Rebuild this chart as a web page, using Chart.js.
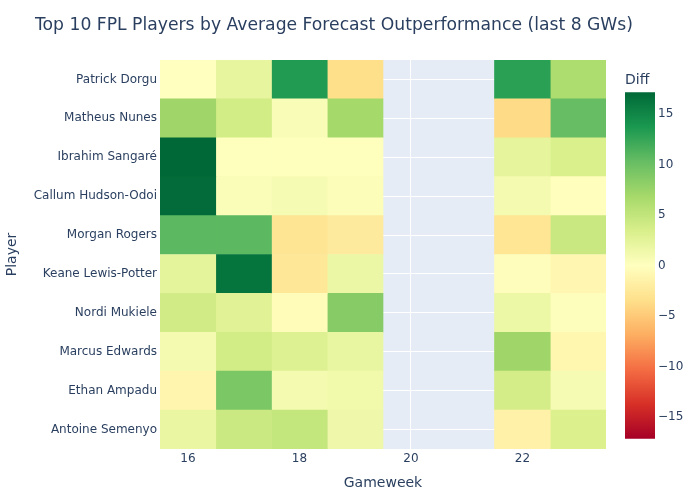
<!DOCTYPE html>
<html>
<head>
<meta charset="utf-8">
<script src="https://cdn.jsdelivr.net/npm/chart.js@4.4.1/dist/chart.umd.min.js"></script>
<style>
html,body{margin:0;padding:0;background:#fff;}
#wrap{position:relative;width:700px;height:500px;font-family:"DejaVu Sans",sans-serif;color:#2a3f5f;overflow:hidden;}
#mainwrap{position:absolute;left:0;top:0;width:700px;height:500px;}
#cbwrap{position:absolute;left:620px;top:82px;width:80px;height:367px;}
#title{position:absolute;left:35px;top:12px;font-size:17.2px;line-height:24px;white-space:nowrap;}
#cbtitle{position:absolute;left:625px;top:69px;font-size:14px;line-height:20px;}
</style>
</head>
<body>
<div id="wrap">
  <div id="mainwrap"><canvas id="main"></canvas></div>
  <div id="cbwrap"><canvas id="cb"></canvas></div>
  <div id="title">Top 10 FPL Players by Average Forecast Outperformance (last 8 GWs)</div>
  <div id="cbtitle">Diff</div>
</div>
<script>
// ---- data ----
const players = ['Patrick Dorgu','Matheus Nunes','Ibrahim Sangaré','Callum Hudson-Odoi','Morgan Rogers','Keane Lewis-Potter','Nordi Mukiele','Marcus Edwards','Ethan Ampadu','Antoine Semenyo'];
const gameweeks = [16, 17, 18, 19, 22, 23];
const gw16 = [0.0, 7.2, 17.15, 16.9, 10.7, 2.4, 4.0, 1.0, -1.1, 1.9];
const gw17 = [2.2, 3.9, 0.1, 0.5, 10.7, 16.3, 2.7, 3.9, 9.1, 4.4];
const gw18 = [13.4, 0.6, 0.1, 0.8, -2.9, -2.6, -0.3, 3.0, 1.0, 4.9];
const gw19 = [-3.4, 6.9, 0.1, 0.4, -2.3, 1.8, 8.6, 2.0, 1.3, 1.4];
const gw22 = [13.0, -3.8, 2.3, 1.0, -2.8, -0.2, 1.6, 7.2, 3.7, -1.6];
const gw23 = [6.3, 10.3, 3.3, -0.1, 4.5, -0.9, 0.2, -1.0, 0.8, 3.2];
const xTickValues = [16, 18, 20, 22];
const colorbarTicks = [-15, -10, -5, 0, 5, 10, 15];

const series = [gw16, gw17, gw18, gw19, gw22, gw23];
const ZMAX = Math.max(...series.flat().map(Math.abs));

const RDYLGN = [
  [0.0,[165,0,38]],[0.1,[215,48,39]],[0.2,[244,109,67]],[0.3,[253,174,97]],
  [0.4,[254,224,139]],[0.5,[255,255,191]],[0.6,[217,239,139]],[0.7,[166,217,106]],
  [0.8,[102,189,99]],[0.9,[26,152,80]],[1.0,[0,104,55]]
];
function colorFor(v){
  let t = (v + ZMAX) / (2 * ZMAX);
  t = Math.max(0, Math.min(1, t));
  for (let i = 1; i < RDYLGN.length; i++){
    const [p1, c1] = RDYLGN[i];
    const [p0, c0] = RDYLGN[i-1];
    if (t <= p1){
      const f = (t - p0) / (p1 - p0);
      const c = c0.map((a, k) => Math.round(a + (c1[k] - a) * f));
      return `rgb(${c[0]},${c[1]},${c[2]})`;
    }
  }
  const c = RDYLGN[RDYLGN.length-1][1];
  return `rgb(${c[0]},${c[1]},${c[2]})`;
}

const FONT = '"DejaVu Sans", sans-serif';
const TXT = '#2a3f5f';

const plotBg = {
  id: 'plotBg',
  beforeDraw(chart){
    const {ctx, chartArea: a} = chart;
    ctx.save();
    ctx.fillStyle = '#E5ECF6';
    ctx.fillRect(a.left, a.top, a.right - a.left, a.bottom - a.top);
    ctx.restore();
  }
};

new Chart(document.getElementById('main'), {
  type: 'bar',
  data: {
    labels: players,
    datasets: gameweeks.map((gw, i) => ({
      label: 'GW ' + gw,
      data: players.map(() => [gw - 0.5, gw + 0.5]),
      backgroundColor: series[i].map(colorFor),
      borderWidth: 0,
      barPercentage: 1,
      categoryPercentage: 1,
      grouped: false
    }))
  },
  options: {
    indexAxis: 'y',
    responsive: true,
    maintainAspectRatio: false,
    animation: false,
    layout: {padding: {left: 0, right: 94, top: 60, bottom: 0}},
    plugins: {legend: {display: false}, tooltip: {enabled: false}},
    scales: {
      x: {
        type: 'linear', min: 15.5, max: 23.5, position: 'bottom',
        afterBuildTicks: s => { s.ticks = xTickValues.map(v => ({value: v})); },
        afterFit: s => { s.height = 51; },
        grid: {color: '#ffffff', lineWidth: 1, drawTicks: false},
        border: {display: false},
        ticks: {color: TXT, font: {family: FONT, size: 12}, padding: 3},
        title: {display: true, text: 'Gameweek', color: TXT, font: {family: FONT, size: 14}, padding: {top: 0, bottom: 8}}
      },
      y: {
        type: 'category',
        afterFit: s => { s.width = 160; },
        grid: {color: '#ffffff', lineWidth: 1, drawTicks: false, offset: false},
        border: {display: false},
        ticks: {color: TXT, font: {family: FONT, size: 12}, padding: 3},
        title: {display: true, text: 'Player', color: TXT, font: {family: FONT, size: 14}, padding: {top: 4, bottom: 0}}
      }
    }
  },
  plugins: [plotBg]
});

new Chart(document.getElementById('cb'), {
  type: 'bar',
  data: {
    labels: [''],
    datasets: [{
      data: [[-ZMAX, ZMAX]],
      backgroundColor: ctx => {
        const chart = ctx.chart;
        const a = chart.chartArea;
        if (!a) return 'rgba(0,0,0,0)';
        const g = chart.ctx.createLinearGradient(0, a.bottom, 0, a.top);
        RDYLGN.forEach(([p, c]) => g.addColorStop(p, `rgb(${c[0]},${c[1]},${c[2]})`));
        return g;
      },
      borderWidth: 0,
      barPercentage: 1,
      categoryPercentage: 1
    }]
  },
  options: {
    responsive: true,
    maintainAspectRatio: false,
    animation: false,
    layout: {padding: {top: 10, bottom: 10, left: 5, right: 0}},
    plugins: {legend: {display: false}, tooltip: {enabled: false}},
    scales: {
      x: {display: false},
      y: {
        position: 'right', min: -ZMAX, max: ZMAX,
        afterBuildTicks: s => { s.ticks = colorbarTicks.map(v => ({value: v})); },
        afterFit: s => { s.width = 45; },
        grid: {display: false, drawTicks: false},
        border: {display: false},
        ticks: {color: TXT, font: {family: FONT, size: 12}, padding: 3,
          callback: v => String(v).replace('-', '\u2212')}
      }
    }
  }
});
</script>
</body>
</html>
